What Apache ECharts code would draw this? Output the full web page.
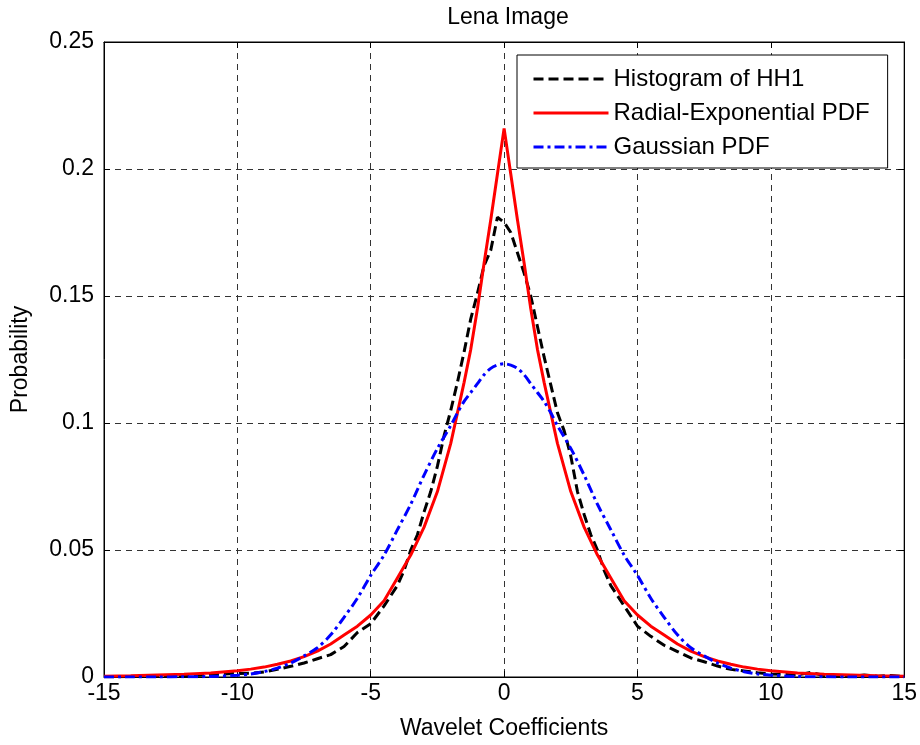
<!DOCTYPE html>
<html>
<head>
<meta charset="utf-8">
<script src="https://cdn.jsdelivr.net/npm/echarts@6/dist/echarts.min.js"></script>
<style>
html,body{margin:0;padding:0;background:#fff;}
#chart{width:920px;height:745px;}
</style>
</head>
<body>
<div id="chart"></div>
<script>
// ---- data ----
var titleText = 'Lena Image';
var xName = 'Wavelet Coefficients';
var yName = 'Probability';
var seriesNames = ['Histogram of HH1', 'Radial-Exponential PDF', 'Gaussian PDF'];

var histX = [-15,-14.5,-14,-13.5,-13,-12.5,-12,-11.5,-11,-10.5,-10,-9.5,-9,-8.5,-8,-7.5,-7,-6.5,-6,-5.5,-5,-4.5,-4,-3.75,-3.5,-3.25,-3,-2.75,-2.5,-2.25,-2,-1.75,-1.5,-1.25,-1,-0.75,-0.5,-0.25,0,0.25,0.5,0.75,1,1.25,1.5,1.75,2,2.25,2.5,2.75,3,3.25,3.5,3.75,4,4.5,5,5.5,6,6.5,7,7.5,8,8.5,9,9.5,10,10.5,11,11.5,12,12.5,13,13.5,14,14.5,15];
var histY = [0.0001,0.0001,0.0002,0.0002,0.0004,0.0004,0.0005,0.0007,0.0009,0.0012,0.0014,0.0015,0.002,0.003,0.0042,0.0055,0.0072,0.0088,0.012,0.0175,0.021,0.028,0.036,0.042,0.050,0.056,0.065,0.073,0.083,0.095,0.105,0.116,0.128,0.141,0.151,0.162,0.168,0.181,0.179,0.175,0.167,0.159,0.150,0.138,0.126,0.115,0.104,0.097,0.087,0.073,0.064,0.056,0.050,0.042,0.036,0.028,0.020,0.016,0.0125,0.010,0.0075,0.006,0.0043,0.003,0.0024,0.0017,0.0012,0.001,0.0008,0.0018,0.0006,0.0004,0.0003,0.0008,0.0003,0.0006,0.0002];

var modelX = [-15,-14,-13,-12,-11,-10,-9.5,-9,-8.5,-8,-7.5,-7,-6.5,-6,-5.5,-5,-4.5,-4,-3.5,-3,-2.5,-2,-1.75,-1.5,-1.25,-1,-0.75,-0.5,-0.25,0,0.25,0.5,0.75,1,1.25,1.5,1.75,2,2.5,3,3.5,4,4.5,5,5.5,6,6.5,7,7.5,8,8.5,9,9.5,10,11,12,13,14,15];
var radialY = [0.0003,0.0005,0.0008,0.0011,0.0016,0.0025,0.0031,0.0039,0.005,0.0063,0.008,0.0102,0.013,0.0165,0.020,0.0244,0.030,0.039,0.048,0.059,0.073,0.092,0.104,0.116,0.129,0.145,0.163,0.180,0.198,0.216,0.198,0.180,0.163,0.145,0.129,0.116,0.104,0.092,0.073,0.059,0.048,0.039,0.030,0.0244,0.020,0.0165,0.013,0.0102,0.008,0.0063,0.005,0.0039,0.0031,0.0025,0.0016,0.0011,0.0008,0.0005,0.0003];
var gaussY = [0,0,0,0.0001,0.0002,0.0007,0.0012,0.0021,0.0035,0.0055,0.0083,0.0115,0.0166,0.0235,0.031,0.040,0.048,0.058,0.068,0.0795,0.090,0.099,0.104,0.1085,0.112,0.1155,0.119,0.1215,0.1228,0.1233,0.1228,0.1215,0.119,0.1155,0.112,0.1085,0.104,0.099,0.090,0.0795,0.068,0.058,0.048,0.040,0.031,0.0235,0.0166,0.0115,0.0083,0.0055,0.0035,0.0021,0.0012,0.0007,0.0002,0.0001,0,0,0];

var xMin = -15, xMax = 15, xStep = 5;
var yMin = 0, yMax = 0.25, yStep = 0.05;

function pairs(xs, ys){ return xs.map(function(x,i){ return [x, ys[i]]; }); }

var FONT = '"Liberation Sans", Arial, sans-serif';
var chart = echarts.init(document.getElementById('chart'), null, {renderer:'canvas'});

var gridLine = {show:true, lineStyle:{color:'#333', width:1, type:[6,5]}};
var tickIn = {show:true, inside:true, length:6, lineStyle:{color:'#000', width:1}};

var option = {
  backgroundColor:'#fff',
  animation:false,
  title:{text:titleText, left:503, textAlign:'center', top:1,
         textStyle:{fontFamily:FONT, fontSize:23, fontWeight:'normal', color:'#000'}},
  grid:{left:104, right:15, top:42, bottom:68, show:true, borderColor:'#000', borderWidth:1, backgroundColor:'#fff'},
  legend:{
    orient:'vertical', left:517, top:55,
    data:seriesNames,
    itemWidth:75, itemHeight:14, itemGap:10,
    padding:[12,18,9,15],
    borderColor:'#000', borderWidth:1, backgroundColor:'#fff',
    itemStyle:{opacity:0},
    lineStyle:{width:3},
    textStyle:{fontFamily:FONT, fontSize:24, color:'#000'}
  },
  xAxis:[{
    type:'value', min:xMin, max:xMax, interval:xStep,
    name:xName, nameLocation:'middle', nameGap:40,
    nameTextStyle:{fontFamily:FONT, fontSize:23, color:'#000'},
    axisLine:{show:true, onZero:false, lineStyle:{color:'#000', width:1}},
    axisTick:tickIn,
    axisLabel:{fontFamily:FONT, fontSize:23, color:'#000', margin:5},
    splitLine:gridLine
  },{
    type:'value', min:xMin, max:xMax, interval:xStep, position:'top',
    axisLine:{show:true, onZero:false, lineStyle:{color:'#000'}}, axisTick:tickIn,
    axisLabel:{show:false}, splitLine:{show:false}
  }],
  yAxis:[{
    type:'value', min:yMin, max:yMax, interval:yStep,
    name:yName, nameLocation:'middle', nameGap:72, nameRotate:90,
    nameTextStyle:{fontFamily:FONT, fontSize:23, color:'#000'},
    axisLine:{show:true, onZero:false, lineStyle:{color:'#000', width:1}},
    axisTick:tickIn,
    axisLabel:{fontFamily:FONT, fontSize:23, color:'#000', margin:10},
    splitLine:gridLine
  },{
    type:'value', min:yMin, max:yMax, interval:yStep, position:'right',
    axisLine:{show:true, onZero:false, lineStyle:{color:'#000'}}, axisTick:tickIn,
    axisLabel:{show:false}, splitLine:{show:false}
  }],
  series:[{
    name:seriesNames[0], type:'line', data:pairs(histX, histY),
    symbol:'none', smooth:false,
    lineStyle:{color:'#000', width:3, type:[10,5]}, itemStyle:{color:'#000'}
  },{
    name:seriesNames[1], type:'line', data:pairs(modelX, radialY),
    symbol:'none', smooth:false,
    lineStyle:{color:'#ff0000', width:3, type:'solid'}, itemStyle:{color:'#ff0000'}
  },{
    name:seriesNames[2], type:'line', data:pairs(modelX, gaussY),
    symbol:'none', smooth:0.3,
    lineStyle:{color:'#0000ff', width:3, type:[10,4,3,4]}, itemStyle:{color:'#0000ff'}
  }]
};
chart.setOption(option);
</script>
</body>
</html>
